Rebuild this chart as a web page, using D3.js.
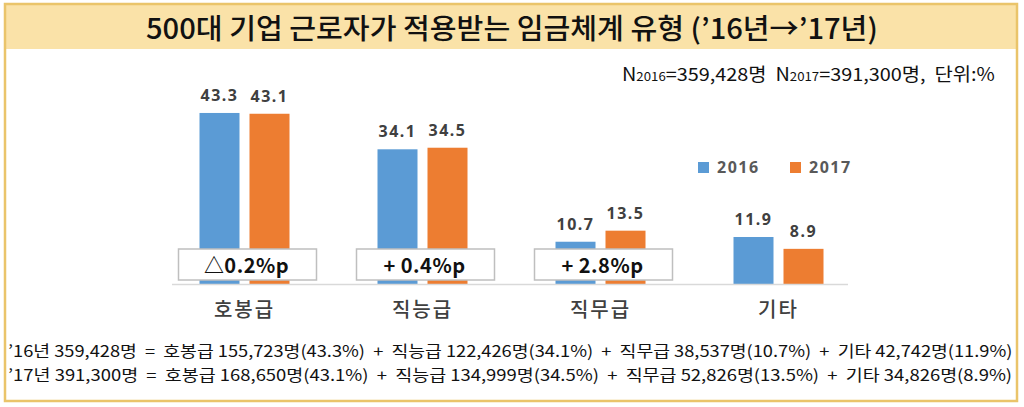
<!DOCTYPE html>
<html><head><meta charset="utf-8">
<script src="https://cdn.jsdelivr.net/npm/d3@7"></script>
<style>
html,body{margin:0;padding:0;background:#fff;}
svg text{white-space:pre;}
</style></head>
<body>
<svg id="chart" width="1024" height="407"></svg>
<script>
const categories = ["호봉급", "직능급", "직무급", "기타"];
const years = ["2016", "2017"];
const values2016 = [43.3, 34.1, 10.7, 11.9];
const values2017 = [43.1, 34.5, 13.5, 8.9];
const deltaLabels = ["△0.2%p", "+ 0.4%p", "+ 2.8%p", null];
const titleText = "500대 기업 근로자가 적용받는 임금체계 유형 (’16년→’17년)";
const footLines = [
  "’16년 359,428명  =  호봉급 155,723명(43.3%)  +  직능급 122,426명(34.1%)  +  직무급 38,537명(10.7%)  +  기타 42,742명(11.9%)",
  "’17년 391,300명  =  호봉급 168,650명(43.1%)  +  직능급 134,999명(34.5%)  +  직무급 52,826명(13.5%)  +  기타 34,826명(8.9%)"
];
const colors = {"2016": "#5b9bd5", "2017": "#ed7d31"};

const svg = d3.select("#chart");
const KR = "'Noto Sans CJK KR','Noto Sans',sans-serif";

// frame + title band
svg.append("rect").attr("x",5).attr("y",4).attr("width",1012).attr("height",45).attr("fill","#fae2a8");
svg.append("rect").attr("x",5).attr("y",4).attr("width",1012).attr("height",397)
  .attr("fill","none").attr("stroke","#eac46a").attr("stroke-width",2.5);

function fit(t, x, y, target, anchor) {
  const w = t.node().getBBox().width;
  const s = target / w;
  let tx = x;
  if (anchor === "middle") tx = x - target/2;
  if (anchor === "end") tx = x - target;
  t.attr("transform", `translate(${tx},${y}) scale(${s},1)`);
}

// title
const title = svg.append("text").attr("x",0).attr("y",0)
  .attr("font-family",KR).attr("font-size",28).attr("font-weight",500).attr("fill","#111")
  .text(titleText);
fit(title, 512, 39, 732, "middle");

// N line
const nl = svg.append("text").attr("x",0).attr("y",0).attr("font-family",KR)
  .attr("font-size",18).attr("fill","#111");
nl.append("tspan").text("N");
nl.append("tspan").attr("font-size",12).text("2016");
nl.append("tspan").text("=359,428명  N");
nl.append("tspan").attr("font-size",12).text("2017");
nl.append("tspan").text("=391,300명,  단위:%");
fit(nl, 995, 81, 373, "end");

// scales
const y = d3.scaleLinear().domain([0, 50]).range([284, 284 - 50*3.95]);
const x0 = d3.scaleBand().domain(categories).range([155.5, 867.5]);
const x1 = d3.scaleBand().domain(years).range([0, 90]).paddingInner(0.2);

const data = categories.map((c,i) => ({cat:c, vals:[{year:"2016", v:values2016[i]},{year:"2017", v:values2017[i]}], delta: deltaLabels[i]}));

const g = svg.append("g").selectAll("g").data(data).join("g")
  .attr("transform", d => `translate(${x0(d.cat) + x0.bandwidth()/2 - 45},0)`);

g.selectAll("rect").data(d => d.vals).join("rect")
  .attr("x", d => x1(d.year)).attr("width", x1.bandwidth())
  .attr("y", d => y(d.v)).attr("height", d => y(0) - y(d.v))
  .attr("fill", d => colors[d.year]);

g.selectAll("text.val").data(d => d.vals).join("text").attr("class","val")
  .attr("x", d => x1(d.year) + x1.bandwidth()/2).attr("y", d => y(d.v) - 12)
  .attr("text-anchor","middle").attr("font-family","'Noto Sans',sans-serif")
  .attr("font-weight",700).attr("font-size",16).attr("letter-spacing",1.5).attr("fill","#404040")
  .text(d => d.v.toFixed(1));

// baseline
svg.append("line").attr("x1",172).attr("x2",848).attr("y1",y(0)+0.5).attr("y2",y(0)+0.5)
  .attr("stroke","#d9d9d9").attr("stroke-width",1.5);

// category axis labels
const ax = svg.append("g").attr("transform",`translate(0,${y(0)})`)
  .call(d3.axisBottom(x0).tickSize(0).tickPadding(19));
ax.select(".domain").remove();
ax.selectAll("text").attr("font-family",KR).attr("font-size",20).attr("font-weight",500)
  .attr("letter-spacing",2).attr("fill","#404040");

// delta boxes
const dg = g.filter(d => d.delta);
dg.append("rect").attr("x", -21).attr("y", 249).attr("width",138).attr("height",31)
  .attr("fill","#fff").attr("stroke","#bfbfbf").attr("stroke-width",1.5);
dg.append("text").attr("x",47).attr("y",273).attr("text-anchor","middle")
  .attr("font-family","'Noto Sans CJK KR','Noto Sans',sans-serif").attr("font-weight",700)
  .attr("font-size",20).attr("letter-spacing",0.5).attr("fill","#111").text(d => d.delta);

// legend
const lg = svg.append("g").selectAll("g").data(years).join("g")
  .attr("transform",(d,i)=>`translate(${698 + i*92},162)`);
lg.append("rect").attr("width",11).attr("height",11).attr("fill",d=>colors[d]);
lg.append("text").attr("x",19).attr("y",11).attr("font-family","'Noto Sans',sans-serif")
  .attr("font-weight",700).attr("font-size",16).attr("letter-spacing",1.5).attr("fill","#595959").text(d=>d);

// footnotes
footLines.forEach((s,i) => {
  const t = svg.append("text").attr("x",0).attr("y",0).attr("font-family",KR)
    .attr("font-size",16).attr("fill","#111").text(s);
  fit(t, 8, 357 + i*23.5, 1005, "start");
});
</script>
</body></html>
